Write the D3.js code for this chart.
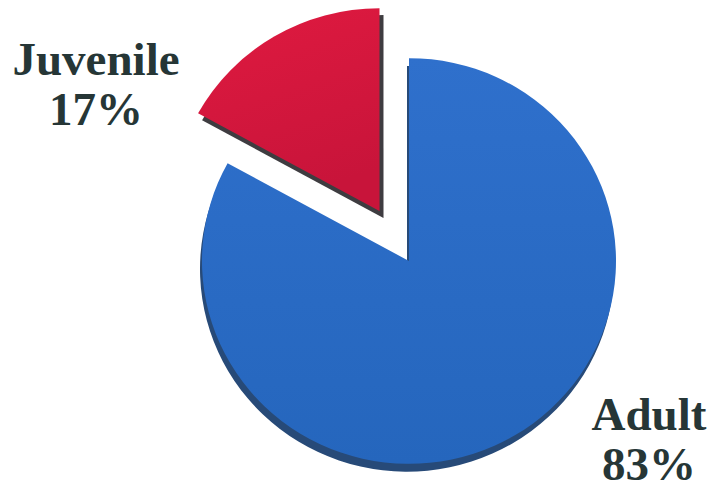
<!DOCTYPE html>
<html>
<head>
<meta charset="utf-8">
<script src="https://cdn.jsdelivr.net/npm/d3@7"></script>
<style>
  html, body { margin: 0; padding: 0; background: #fff; }
  svg { display: block; }
  .label { font-family: "Liberation Serif", "Times New Roman", serif; font-weight: bold; fill: #263636; }
</style>
</head>
<body>
<div id="chart"></div>
<script>
const categories = ["Juvenile", "Adult"];
const values = [17, 83];
const percentLabels = ["17%", "83%"];

const width = 712;
const height = 489;
const cx = 409, cy = 261;
const radius = 207;
const squash = 0.98;     // slight tilt of the pie
const explode = 58;      // how far the juvenile slice is pulled out
const depth = 7;

const svg = d3.select("#chart").append("svg")
    .attr("width", width)
    .attr("height", height);

const defs = svg.append("defs");
const redGrad = defs.append("linearGradient")
    .attr("id", "redGrad").attr("x1", 0).attr("y1", 0).attr("x2", 0.3).attr("y2", 1);
redGrad.append("stop").attr("offset", "0%").attr("stop-color", "#e01a40");
redGrad.append("stop").attr("offset", "100%").attr("stop-color", "#c8143a");
const blueGrad = defs.append("linearGradient")
    .attr("id", "blueGrad").attr("x1", 0).attr("y1", 0).attr("x2", 0).attr("y2", 1);
blueGrad.append("stop").attr("offset", "0%").attr("stop-color", "#2f70cc");
blueGrad.append("stop").attr("offset", "100%").attr("stop-color", "#2566bd");

const fills = { Juvenile: "url(#redGrad)", Adult: "url(#blueGrad)" };
const sides = { Juvenile: "#3e3c40", Adult: "#274a78" };
const sideShift = { Juvenile: [4, depth], Adult: [-2, depth + 1] };

// juvenile slice ends at 12 o'clock, adult runs clockwise from there
const span = 2 * Math.PI * values[0] / d3.sum(values);
const pie = d3.pie().sort(null).value(d => d.value)
    .startAngle(-span).endAngle(2 * Math.PI - span);
const arc = d3.arc().innerRadius(0).outerRadius(radius);

const data = pie(categories.map((c, i) => ({ name: c, value: values[i] })));

const g = svg.append("g")
    .attr("transform", `translate(${cx},${cy}) scale(1,${squash})`);

// draw the adult slice first so the exploded slice sits on top
const order = data.slice().reverse();

const slices = g.selectAll("g.slice")
    .data(order)
    .enter().append("g")
    .attr("class", "slice")
    .attr("transform", d => {
        if (d.data.name !== "Juvenile") return null;
        const mid = (d.startAngle + d.endAngle) / 2;
        return `translate(${Math.sin(mid) * explode},${-Math.cos(mid) * explode / squash})`;
    });

slices.append("path")
    .attr("d", arc)
    .attr("transform", d => `translate(${sideShift[d.data.name][0]},${sideShift[d.data.name][1]})`)
    .attr("fill", d => sides[d.data.name]);

slices.append("path")
    .attr("d", arc)
    .attr("fill", d => fills[d.data.name]);

// labels
const labelPos = { Juvenile: [96, 75], Adult: [649, 430] };
const lab = svg.selectAll("g.lab")
    .data(categories)
    .enter().append("g")
    .attr("class", "lab")
    .attr("transform", d => `translate(${labelPos[d][0]},${labelPos[d][1]})`);

lab.append("text")
    .attr("class", "label")
    .attr("text-anchor", "middle")
    .attr("font-size", 47)
    .text(d => d);

lab.append("text")
    .attr("class", "label")
    .attr("text-anchor", "middle")
    .attr("font-size", 47)
    .attr("y", 50)
    .text((d, i) => percentLabels[i]);
</script>
</body>
</html>
